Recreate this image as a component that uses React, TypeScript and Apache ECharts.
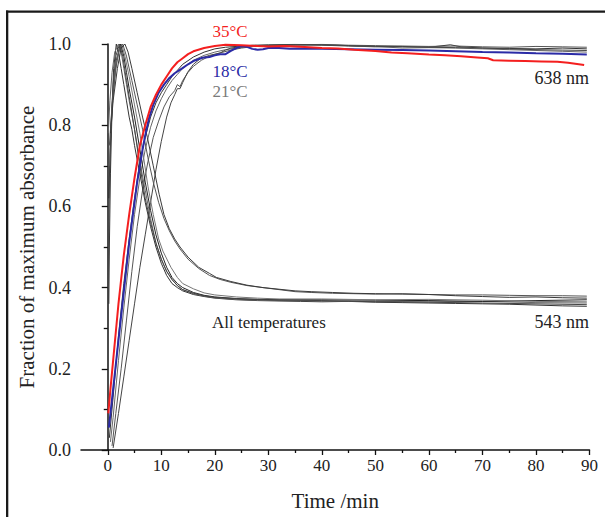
import React, { useEffect, useRef } from "react";
import * as echarts from "echarts";

// ---- axis ticks ----
const xMajorTicks = [0, 10, 20, 30, 40, 50, 60, 70, 80, 90];
const xMinorTicks = [5, 15, 25, 35, 45, 55, 65, 75, 85];

// ---- 638 nm traces (rising) [time min, fraction] ----
const red35: [number, number][] = [
  [0.1, 0.09], [0.5, 0.15], [1, 0.22], [1.5, 0.29], [2, 0.36], [2.5, 0.42], [3, 0.48], [3.5, 0.53],
  [4, 0.58], [5, 0.67], [6, 0.75], [7, 0.8], [8, 0.845], [9, 0.875], [10, 0.9], [11, 0.92],
  [12, 0.94], [13, 0.955], [14, 0.965], [15, 0.975], [16, 0.982], [18, 0.99], [20, 0.995],
  [22, 0.998], [25, 0.997], [28, 0.995], [30, 0.994], [33, 0.995], [36, 0.993], [40, 0.99],
  [43, 0.989], [46, 0.986], [50, 0.983], [53, 0.979], [56, 0.977], [60, 0.974], [63, 0.972],
  [66, 0.97], [69, 0.967], [71, 0.965], [72, 0.96], [75, 0.959], [78, 0.958], [81, 0.957],
  [84, 0.956], [86, 0.954], [88, 0.95], [89, 0.948],
];
const blue18: [number, number][] = [
  [0.2, 0.055], [0.5, 0.09], [1, 0.15], [1.5, 0.21], [2, 0.27], [2.5, 0.33], [3, 0.39], [3.5, 0.45],
  [4, 0.51], [4.5, 0.56], [5, 0.61], [5.5, 0.66], [6, 0.7], [6.5, 0.74], [7, 0.775], [7.7, 0.817],
  [8.5, 0.85], [9.5, 0.88], [10.5, 0.9], [11.4, 0.915], [12.5, 0.928], [13.9, 0.94], [15, 0.95],
  [16, 0.958], [17.7, 0.966], [19, 0.968], [20, 0.972], [21, 0.975], [22, 0.975], [23, 0.983],
  [24, 0.99], [25, 0.995], [26, 0.993], [27, 0.988], [28, 0.986], [29, 0.987], [30, 0.99],
  [32, 0.99], [34, 0.988], [36, 0.989], [40, 0.988], [45, 0.987], [50, 0.986], [55, 0.985],
  [60, 0.984], [65, 0.982], [70, 0.98], [75, 0.979], [80, 0.977], [85, 0.976], [89.5, 0.974],
];
const g638a: [number, number][] = [
  [0.3, 0.03], [1, 0.13], [2, 0.28], [3, 0.41], [4, 0.52], [5, 0.62], [6, 0.71], [7, 0.77],
  [8, 0.82], [9, 0.855], [10, 0.88], [11, 0.9], [12, 0.92], [13, 0.935], [14, 0.95], [16, 0.968],
  [18, 0.98], [20, 0.988], [22, 0.992], [25, 0.995], [30, 0.997], [35, 0.998], [40, 0.997],
  [45, 0.995], [50, 0.993], [55, 0.994], [60, 0.992], [64, 0.998], [66, 0.993], [70, 0.99],
  [75, 0.989], [80, 0.988], [85, 0.99], [89.5, 0.988],
];
const g638b: [number, number][] = [
  [0.5, 0.02], [1, 0.08], [2, 0.22], [3, 0.35], [4, 0.47], [5, 0.58], [6, 0.67], [7, 0.74],
  [8, 0.795], [9, 0.835], [10, 0.865], [11, 0.89], [12, 0.91], [13, 0.925], [14, 0.94], [16, 0.96],
  [18, 0.972], [20, 0.98], [22, 0.986], [24, 0.99], [27, 0.994], [30, 0.996], [35, 0.997],
  [40, 0.998], [45, 0.996], [50, 0.994], [55, 0.99], [60, 0.991], [65, 0.99], [70, 0.988],
  [75, 0.986], [80, 0.984], [85, 0.982], [89.5, 0.98],
];
const g638c: [number, number][] = [
  [0.8, 0.01], [1.5, 0.09], [2.5, 0.2], [3.5, 0.32], [4.5, 0.44], [5.5, 0.55], [6.5, 0.64],
  [7.5, 0.71], [8.5, 0.77], [9.5, 0.81], [10.5, 0.845], [11.5, 0.87], [12.5, 0.885], [13, 0.9],
  [13.5, 0.895], [14, 0.91], [15, 0.93], [16, 0.945], [17.5, 0.96], [19, 0.97], [21, 0.978],
  [23, 0.985], [25, 0.99], [28, 0.995], [32, 0.997], [36, 0.998], [40, 0.999], [45, 0.997],
  [50, 0.996], [55, 0.995], [60, 0.994], [65, 0.995], [70, 0.993], [75, 0.992], [80, 0.994],
  [85, 0.993], [89.5, 0.992],
];
const g638d: [number, number][] = [
  [1, 0.005], [2, 0.09], [3, 0.18], [4, 0.27], [5, 0.36], [6, 0.45], [7, 0.53], [8, 0.61],
  [9, 0.69], [10, 0.76], [11, 0.82], [11.8, 0.855], [12.5, 0.875], [13, 0.89], [13.5, 0.89],
  [14, 0.905], [14.9, 0.93], [16, 0.95], [17.4, 0.965], [19, 0.972], [21, 0.978], [22, 0.985],
  [23, 0.99], [25, 0.994], [27, 0.997], [30, 0.998], [35, 0.999], [40, 0.998], [45, 0.996],
  [50, 0.994], [55, 0.993], [60, 0.992], [65, 0.991], [70, 0.99], [75, 0.988], [80, 0.986],
  [85, 0.985], [89.5, 0.984],
];

// ---- 543 nm traces (peak, then decay) ----
const s543a: [number, number][] = [
  [0.2, 0.36], [0.3, 0.5], [0.5, 0.68], [0.8, 0.84], [1.1, 0.94], [1.6, 1.0], [2, 0.98],
  [2.5, 0.94], [3, 0.9], [3.5, 0.86], [4, 0.82], [4.5, 0.79], [5, 0.75], [6, 0.68], [7, 0.61],
  [8, 0.55], [9, 0.5], [10, 0.46], [11, 0.43], [12, 0.41], [13, 0.4], [14, 0.392], [16, 0.383],
  [18, 0.378], [20, 0.374], [24, 0.37], [28, 0.368], [32, 0.367], [36, 0.366], [40, 0.365],
  [45, 0.366], [50, 0.364], [55, 0.363], [60, 0.362], [65, 0.361], [70, 0.36], [75, 0.359],
  [80, 0.357], [85, 0.355], [89.5, 0.354],
];
const s543b: [number, number][] = [
  [0.1, 0.78], [0.4, 0.86], [0.8, 0.93], [1.3, 0.98], [2, 1.0], [2.5, 0.98], [3, 0.94],
  [3.5, 0.9], [4, 0.86], [5, 0.79], [6, 0.71], [7, 0.64], [8, 0.57], [9, 0.51], [10, 0.47],
  [11, 0.44], [12, 0.42], [13, 0.405], [14, 0.395], [16, 0.385], [18, 0.379], [20, 0.375],
  [24, 0.371], [28, 0.369], [32, 0.368], [40, 0.367], [50, 0.366], [60, 0.365], [70, 0.366],
  [80, 0.363], [89.5, 0.362],
];
const s543c: [number, number][] = [
  [0.2, 0.62], [0.5, 0.76], [1, 0.88], [1.6, 0.96], [2.4, 1.0], [3, 0.97], [3.5, 0.93],
  [4, 0.89], [5, 0.82], [6, 0.74], [7, 0.66], [8, 0.59], [9, 0.53], [10, 0.485], [11, 0.45],
  [12, 0.425], [13, 0.41], [14, 0.4], [16, 0.388], [18, 0.381], [20, 0.377], [24, 0.373],
  [28, 0.371], [32, 0.37], [40, 0.37], [50, 0.369], [60, 0.368], [70, 0.366], [80, 0.368],
  [89.5, 0.37],
];
const s543d: [number, number][] = [
  [0.3, 0.7], [0.7, 0.82], [1.2, 0.91], [1.8, 0.97], [2.6, 1.0], [3.2, 0.97], [4, 0.92],
  [5, 0.85], [6, 0.78], [6.7, 0.72], [7.5, 0.65], [8.5, 0.58], [9.5, 0.52], [10.3, 0.49],
  [11.8, 0.45], [13, 0.425], [14, 0.41], [16, 0.397], [18, 0.387], [20, 0.382], [24, 0.377],
  [28, 0.374], [32, 0.372], [40, 0.372], [50, 0.37], [60, 0.371], [70, 0.369], [80, 0.366],
  [89.5, 0.365],
];
const s543e: [number, number][] = [
  [0.1, 0.4], [0.3, 0.65], [0.6, 0.8], [1, 0.9], [1.5, 0.97], [2.2, 1.0], [2.8, 0.97],
  [3.5, 0.91], [4, 0.87], [5, 0.79], [6, 0.7], [7, 0.62], [8, 0.56], [9, 0.51], [10, 0.47],
  [11, 0.44], [12, 0.42], [13, 0.405], [14, 0.395], [16, 0.386], [18, 0.38], [20, 0.376],
  [25, 0.372], [30, 0.37], [40, 0.368], [50, 0.365], [60, 0.364], [70, 0.362], [80, 0.36],
  [89.5, 0.358],
];
const s543f: [number, number][] = [
  [0.3, 0.75], [0.8, 0.85], [1.5, 0.94], [2.2, 0.99], [2.8, 1.0], [3.5, 0.97], [4.5, 0.91],
  [5.5, 0.85], [6.5, 0.79], [7.5, 0.72], [8.5, 0.66], [9.5, 0.61], [10.5, 0.57], [11.5, 0.54],
  [12.5, 0.515], [13.5, 0.495], [15, 0.47], [17, 0.447], [19, 0.43], [21, 0.42], [23, 0.413],
  [26, 0.405], [29, 0.4], [32, 0.395], [35, 0.39], [38, 0.388], [42, 0.386], [46, 0.385],
  [50, 0.384], [55, 0.385], [60, 0.383], [65, 0.382], [70, 0.382], [75, 0.381], [80, 0.38],
  [85, 0.38], [89.5, 0.379],
];
const s543g: [number, number][] = [
  [0.5, 0.78], [1, 0.86], [1.8, 0.94], [2.5, 0.99], [3.2, 1.0], [3.8, 0.98], [4.5, 0.94],
  [5.5, 0.88], [6.5, 0.82], [7.4, 0.77], [8.5, 0.7], [9.6, 0.63], [10.5, 0.58], [11.5, 0.545],
  [12.5, 0.52], [13.5, 0.5], [15, 0.475], [17, 0.45], [19, 0.435], [20.3, 0.425], [23, 0.415],
  [26, 0.406], [29, 0.4], [32, 0.396], [35, 0.392], [38, 0.39], [42, 0.388], [46, 0.386],
  [50, 0.385], [55, 0.384], [60, 0.383], [65, 0.38], [70, 0.378], [75, 0.376], [80, 0.377],
  [85, 0.375], [89.5, 0.374],
];

const greyTraces: { data: [number, number][]; color: string }[] = [
  { data: g638a, color: "#333333" },
  { data: g638b, color: "#666666" },
  { data: g638c, color: "#555555" },
  { data: g638d, color: "#444444" },
  { data: s543a, color: "#333333" },
  { data: s543b, color: "#666666" },
  { data: s543c, color: "#222222" },
  { data: s543d, color: "#777777" },
  { data: s543e, color: "#444444" },
  { data: s543f, color: "#555555" },
  { data: s543g, color: "#3a3a3a" },
];

const FONT = "Liberation Serif";

export default function App() {
  const ref = useRef<HTMLDivElement>(null);
  useEffect(() => {
    if (!ref.current) return;
    const chart = echarts.init(ref.current, null, { renderer: "svg" });
    const series: any[] = greyTraces.map((t) => ({
      type: "line",
      data: t.data,
      showSymbol: false,
      symbol: "none",
      lineStyle: { color: t.color, width: 1 },
      xAxisIndex: 0,
      yAxisIndex: 0,
    }));
    series.push({
      type: "line",
      data: blue18,
      showSymbol: false,
      symbol: "none",
      lineStyle: { color: "#2b2ba6", width: 2 },
    });
    series.push({
      type: "line",
      data: red35,
      showSymbol: false,
      symbol: "none",
      lineStyle: { color: "#f41f1f", width: 2 },
    });
    const textStyleBase = { fontFamily: FONT, fontSize: 17, fill: "#222" };
    chart.setOption({
      animation: false,
      backgroundColor: "#ffffff",
      grid: { left: 81, right: 15.5, top: 44, bottom: 67, containLabel: false },
      xAxis: [
        {
          type: "value",
          min: -5,
          max: 90,
          name: "Time /min",
          nameLocation: "middle",
          nameGap: 40,
          nameTextStyle: { fontFamily: FONT, fontSize: 21, color: "#222" },
          axisLine: { show: true, lineStyle: { color: "#111", width: 1.5 } },
          axisTick: { show: true, customValues: xMajorTicks, length: 5, lineStyle: { color: "#111", width: 1.3 } },
          axisLabel: { customValues: xMajorTicks, fontFamily: FONT, fontSize: 17, color: "#222", margin: 7 },
          splitLine: { show: false },
        },
        {
          type: "value",
          min: -5,
          max: 90,
          position: "bottom",
          axisLine: { show: false },
          axisTick: { show: true, customValues: xMinorTicks, length: 3, lineStyle: { color: "#111", width: 1.3 } },
          axisLabel: { show: false },
          splitLine: { show: false },
        },
      ],
      yAxis: {
        type: "value",
        min: 0,
        max: 1,
        interval: 0.2,
        name: "Fraction of maximum absorbance",
        nameLocation: "middle",
        nameGap: 40,
        nameTextStyle: { fontFamily: FONT, fontSize: 21, color: "#222" },
        axisLine: { show: true, lineStyle: { color: "#111", width: 1.5 } },
        axisTick: { show: true, length: 6, lineStyle: { color: "#111", width: 1.3 } },
        minorTick: { show: true, splitNumber: 2, length: 4, lineStyle: { color: "#111", width: 1.3 } },
        axisLabel: {
          fontFamily: FONT,
          fontSize: 18,
          color: "#222",
          margin: 10,
          formatter: (v: number) => v.toFixed(1),
        },
        splitLine: { show: false },
        minorSplitLine: { show: false },
      },
      series,
      graphic: [
        { type: "rect", shape: { x: 6, y: 10.5, width: 2.3, height: 520 }, style: { fill: "#1a1a1a" } },
        { type: "rect", shape: { x: 6, y: 10.5, width: 610, height: 2.3 }, style: { fill: "#1a1a1a" } },
        { type: "text", x: 230, y: 31, style: { ...textStyleBase, text: "35°C", fill: "#f41f1f", align: "center", verticalAlign: "middle" } },
        { type: "text", x: 230, y: 71, style: { ...textStyleBase, text: "18°C", fill: "#2b2ba6", align: "center", verticalAlign: "middle" } },
        { type: "text", x: 230, y: 91, style: { ...textStyleBase, text: "21°C", fill: "#7a7a7a", align: "center", verticalAlign: "middle" } },
        { type: "text", x: 589, y: 78, style: { ...textStyleBase, fontSize: 18, text: "638 nm", align: "right", verticalAlign: "middle" } },
        { type: "text", x: 589, y: 322, style: { ...textStyleBase, fontSize: 18, text: "543 nm", align: "right", verticalAlign: "middle" } },
        { type: "text", x: 212, y: 322, style: { ...textStyleBase, text: "All temperatures", align: "left", verticalAlign: "middle" } },
      ],
    });
    return () => chart.dispose();
  }, []);
  return (
    <div
      ref={ref}
      style={{ position: "fixed", left: 0, top: 0, width: 605, height: 517, background: "#fff" }}
    />
  );
}
